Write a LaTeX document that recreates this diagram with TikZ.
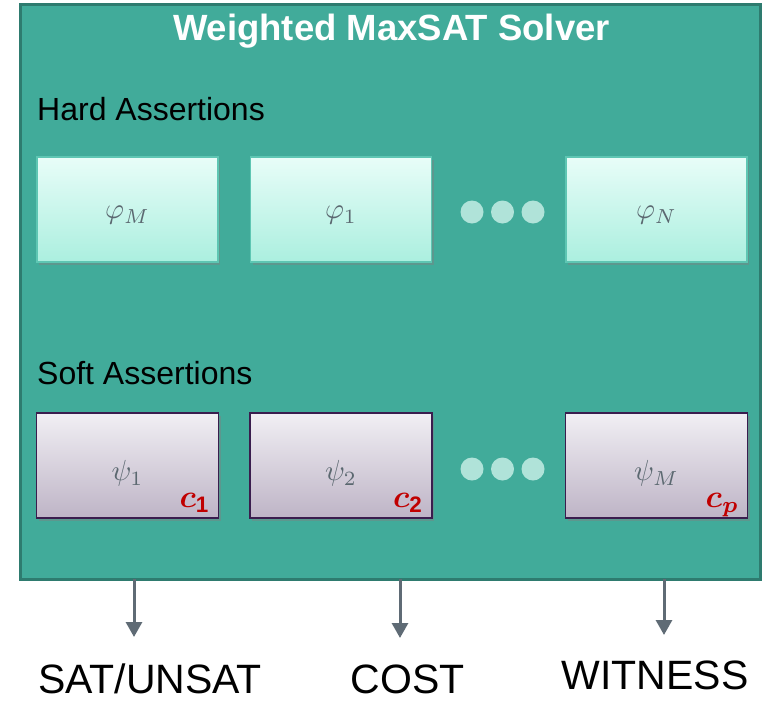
\documentclass[tikz,border=0pt]{standalone}
\usepackage{fontspec}
\setmainfont{Liberation Sans}
\usepackage{amsmath,bm}
\usetikzlibrary{shadows,arrows.meta}

\definecolor{solverfill}{HTML}{41AB9A}
\definecolor{solveredge}{HTML}{2E7B6F}
\definecolor{hardtop}{HTML}{E8FDF8}
\definecolor{hardbot}{HTML}{ABEFDF}
\definecolor{hardedge}{HTML}{5EC6B3}
\definecolor{softtop}{HTML}{F1EFF4}
\definecolor{softbot}{HTML}{BEB4C6}
\definecolor{softedge}{HTML}{3A1D4E}
\definecolor{dotfill}{HTML}{B0E3D9}
\definecolor{symgray}{HTML}{5B6870}
\definecolor{costred}{HTML}{C00000}
\definecolor{arrowgray}{HTML}{5F6B75}

% formulas are set at 10pt and enlarged
\newcommand{\bigsym}[1]{\scalebox{2.9}{$#1$}}
\newcommand{\bigweight}[1]{\scalebox{3.2}{$#1$}}

\tikzset{
  solver/.style={draw=solveredge, line width=3pt, fill=solverfill, inner sep=0pt, outer sep=0pt},
  hardbox/.style={draw=hardedge, line width=1.5pt, top color=hardtop, bottom color=hardbot,
    minimum width=181pt, minimum height=105pt, inner sep=0pt,
    drop shadow={shadow xshift=2pt, shadow yshift=-2.5pt, opacity=0.45}},
  softbox/.style={draw=softedge, line width=1.5pt, top color=softtop, bottom color=softbot,
    minimum width=182pt, minimum height=105pt, inner sep=0pt,
    drop shadow={shadow xshift=2pt, shadow yshift=-2.5pt, opacity=0.45}},
  sym/.style={text=symgray, inner sep=0pt},
  weight/.style={text=costred, inner sep=0pt, anchor=base east},
  more/.style={circle, fill=dotfill, minimum size=23pt, inner sep=0pt},
  heading/.style={font=\fontsize{32}{34}\selectfont, anchor=base west, inner sep=0pt},
  result/.style={font=\fontsize{41}{44}\selectfont, anchor=base, inner sep=0pt},
  outarrow/.style={draw=arrowgray, line width=3pt, -{Triangle[length=15pt,width=16pt]}}
}

\begin{document}
\begin{tikzpicture}[x=1pt, y=-1pt]
\useasboundingbox (0,0) rectangle (763,702);

% solver frame
\node[solver, anchor=north west, minimum width=740pt, minimum height=575pt] (solver) at (20,4) {};
\node[anchor=base, text=white, inner sep=0pt, font=\fontsize{36.5}{40}\selectfont\bfseries] (title) at (391.5,40.5) {Weighted MaxSAT Solver};

% hard assertions
\node[heading] (hardlbl) at (37,120) {Hard Assertions};
\node[hardbox] (h1) at (127.5,209.5) {};
\node[hardbox] (h2) at (341,209.5) {};
\node[hardbox] (h3) at (656.5,209.5) {};
\node[sym] (h1t) at ([yshift=-6pt]h1.center) {\bigsym{\varphi_M}};
\node[sym] (h2t) at ([yshift=-6pt]h2.center) {\bigsym{\varphi_1}};
\node[sym] (h3t) at ([yshift=-6pt]h3.center) {\bigsym{\varphi_N}};
\node[more] (hd1) at (472,212) {};
\node[more] (hd2) at (502.5,212) {};
\node[more] (hd3) at (533,212) {};

% soft assertions
\node[heading] (softlbl) at (37,384) {Soft Assertions};
\node[softbox] (s1) at (127.5,465.5) {};
\node[softbox] (s2) at (341,465.5) {};
\node[softbox] (s3) at (656.5,465.5) {};
\node[sym] (s1t) at ([yshift=-8pt]s1.center) {\bigsym{\psi_1}};
\node[sym] (s2t) at ([yshift=-8pt]s2.center) {\bigsym{\psi_2}};
\node[sym] (s3t) at ([yshift=-8pt]s3.center) {\bigsym{\psi_M}};
\node[weight] (c1) at ([xshift=-9pt,yshift=11pt]s1.south east) {\bigweight{\boldsymbol{c}_{\mathbf{1}}}};
\node[weight] (c2) at ([xshift=-9pt,yshift=11pt]s2.south east) {\bigweight{\boldsymbol{c}_{\mathbf{2}}}};
\node[weight] (c3) at ([xshift=-9pt,yshift=11pt]s3.south east) {\bigweight{\boldsymbol{c}_{\boldsymbol{p}}}};
\node[more] (sd1) at (472,469) {};
\node[more] (sd2) at (502.5,469) {};
\node[more] (sd3) at (533,469) {};

% outputs
\coordinate (tip1) at (134,637);
\coordinate (tip2) at (400,638);
\coordinate (tip3) at (664,635);
\draw[outarrow] (solver.south -| tip1) -- (tip1);
\draw[outarrow] (solver.south -| tip2) -- (tip2);
\draw[outarrow] (solver.south -| tip3) -- (tip3);
\node[result] (r1) at (150,693) {SAT/UNSAT};
\node[result] (r2) at (407.5,693) {COST};
\node[result] (r3) at (655,689) {WITNESS};
\end{tikzpicture}
\end{document}
